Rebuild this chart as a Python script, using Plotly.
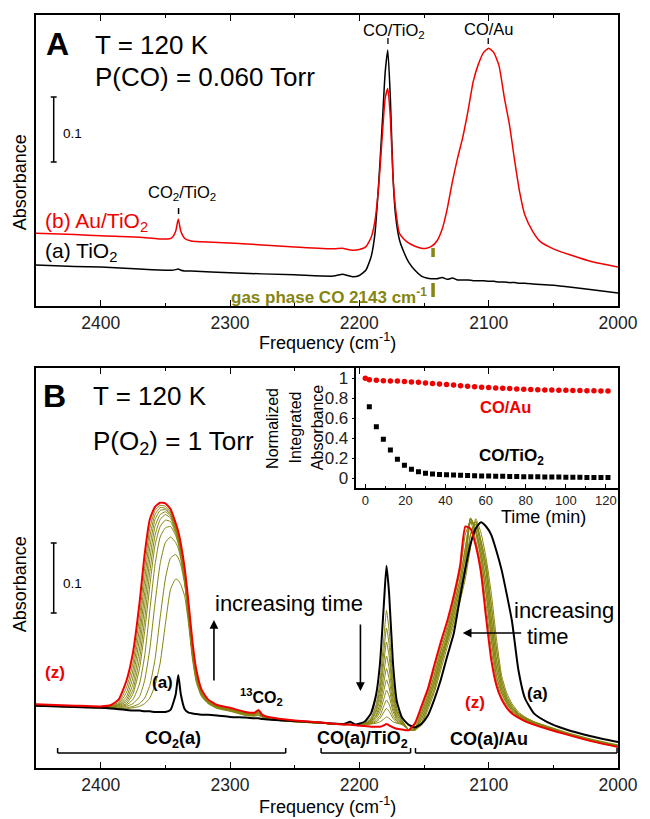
import plotly.graph_objects as go

# ---------------- Panel A data (Absorbance vs frequency) ----------------
freq_a = [2450, 2420, 2400, 2370, 2350, 2345, 2342, 2340, 2338, 2335,
          2330, 2300, 2250, 2220, 2213, 2209, 2205, 2200, 2195, 2191,
          2188, 2185, 2182, 2180, 2178, 2176, 2174, 2172, 2169, 2166,
          2162, 2157, 2152, 2148, 2144, 2140, 2136, 2132, 2128, 2124,
          2120, 2116, 2112, 2108, 2104, 2100, 2096, 2092, 2088, 2084,
          2080, 2076, 2072, 2066, 2060, 2050, 2036, 2020, 2000]
abs_a_tio2 = [.063, .061, .060, .057, .055, .055, .056, .057, .055, .054,
              .054, .051, .048, .046, .049, .047, .045, .047, .055, .075,
              .110, .190, .290, .360, .394, .320, .200, .140, .102, .085,
              .068, .055, .046, .043, .042, .042, .044, .041, .043, .040,
              .040, .040, .039, .039, .039, .038, .038, .037, .037, .036,
              .036, .035, .035, .034, .033, .032, .029, .025, .020]
abs_a_autio2 = [.112, .110, .108, .106, .103, .105, .115, .134, .115, .104,
                .100, .097, .091, .088, .089, .087, .086, .087, .091, .105,
                .130, .185, .270, .320, .335, .290, .200, .150, .112, .104,
                .097, .092, .089, .089, .092, .100, .118, .150, .192, .228,
                .260, .300, .345, .372, .390, .397, .390, .370, .322, .280,
                .225, .175, .140, .115, .099, .088, .078, .068, .060]
gas_phase_co = 2143

# ---------------- Panel B data ----------------
freq_b = [2450, 2420, 2400, 2392, 2386, 2380, 2375, 2370, 2366, 2362,
          2358, 2354, 2350, 2346, 2342, 2340, 2338, 2335, 2332, 2329,
          2326, 2322, 2317, 2310, 2300, 2288, 2281, 2278, 2275, 2268,
          2250, 2230, 2212, 2207, 2203, 2196, 2191, 2187, 2184, 2181,
          2179, 2177, 2174, 2171, 2167, 2162, 2157, 2152, 2147, 2142,
          2137, 2132, 2127, 2122, 2118, 2114, 2110, 2106, 2102, 2098,
          2094, 2090, 2086, 2082, 2077, 2072, 2065, 2055, 2040, 2020, 2000]
abs_b_first = [.089, .087, .086, .085, .084, .083, .082, .082, .081, .081,
               .080, .080, .080, .083, .105, .133, .105, .084, .079, .078,
               .077, .076, .076, .075, .073, .072, .071, .071, .070, .069,
               .067, .065, .063, .066, .062, .066, .078, .105, .150, .235,
               .289, .250, .150, .095, .072, .062, .058, .063, .075, .098,
               .126, .160, .192, .245, .285, .320, .342, .351, .345, .333,
               .310, .283, .248, .210, .140, .100, .078, .066, .055, .045, .037]
abs_b_last = [.091, .089, .088, .090, .098, .125, .165, .235, .305, .355,
              .373, .379, .378, .370, .350, .338, .320, .285, .235, .180,
              .140, .112, .098, .090, .086, .080, .079, .083, .076, .072,
              .068, .065, .062, .062, .061, .060, .059, .059, .059, .061,
              .063, .061, .058, .056, .055, .054, .064, .088, .113, .147,
              .180, .210, .246, .290, .345, .342, .318, .280, .215, .155,
              .118, .098, .086, .078, .072, .067, .062, .056, .048, .038, .030]

# intermediate spectra (olive), earliest -> latest, by spectral region
olive_co2 = [
    [.089, .087, .086, .085, .085, .085, .086, .088, .092, .100, .118, .150, .205, .255, .270, .268, .262, .245, .205, .155, .122, .102, .092, .085, .081],
    [.089, .087, .086, .085, .085, .086, .088, .092, .100, .118, .155, .215, .270, .300, .305, .300, .290, .262, .212, .160, .125, .104, .093, .086, .082],
    [.089, .087, .086, .086, .086, .088, .092, .102, .125, .170, .235, .292, .322, .330, .322, .314, .298, .265, .212, .160, .126, .104, .093, .086, .082],
    [.089, .087, .086, .086, .087, .090, .098, .120, .160, .225, .290, .330, .343, .345, .332, .320, .302, .266, .213, .161, .127, .105, .093, .086, .082],
    [.089, .087, .086, .086, .088, .092, .106, .142, .195, .260, .318, .345, .354, .352, .335, .323, .304, .268, .214, .162, .128, .105, .094, .087, .083],
    [.089, .088, .087, .087, .089, .095, .112, .155, .212, .280, .332, .355, .362, .357, .338, .326, .306, .270, .216, .164, .129, .106, .094, .087, .083],
    [.089, .088, .087, .087, .090, .098, .120, .170, .232, .298, .345, .362, .366, .360, .340, .328, .308, .272, .218, .165, .130, .106, .095, .087, .083],
    [.090, .088, .087, .088, .091, .102, .130, .185, .250, .315, .355, .368, .369, .362, .342, .330, .310, .273, .220, .167, .131, .107, .095, .088, .084],
    [.090, .088, .087, .088, .092, .108, .140, .200, .268, .330, .362, .372, .371, .364, .344, .332, .312, .275, .222, .169, .132, .108, .096, .088, .084],
    [.090, .088, .087, .089, .094, .115, .150, .215, .285, .342, .368, .375, .374, .366, .346, .333, .314, .278, .226, .172, .134, .109, .096, .088, .084],
]
olive_mid = [
    [.075, .074, .075, .072, .069, .066, .064, .062, .063, .062],
    [.076, .075, .076, .073, .069, .066, .064, .062, .062, .061],
    [.076, .075, .077, .073, .069, .066, .064, .062, .062, .061],
    [.077, .076, .078, .073, .070, .066, .064, .062, .062, .061],
    [.077, .076, .079, .074, .070, .067, .064, .062, .062, .061],
    [.078, .077, .080, .074, .070, .067, .064, .062, .062, .061],
    [.078, .077, .080, .074, .070, .067, .064, .062, .062, .061],
    [.078, .077, .081, .075, .071, .067, .064, .062, .062, .061],
    [.079, .078, .081, .075, .071, .067, .064, .062, .062, .061],
    [.079, .078, .082, .075, .071, .067, .064, .062, .062, .061],
]
olive_tio2 = [
    [.064, .072, .091, .124, .186, .225, .197, .124, .085, .069],
    [.063, .070, .087, .114, .167, .200, .177, .114, .081, .068],
    [.063, .069, .083, .107, .152, .180, .160, .107, .079, .067],
    [.063, .068, .080, .099, .136, .160, .143, .099, .076, .066],
    [.063, .067, .076, .092, .123, .142, .128, .092, .073, .065],
    [.063, .066, .074, .086, .111, .126, .115, .086, .071, .065],
    [.062, .065, .071, .081, .099, .111, .103, .081, .069, .064],
    [.062, .064, .068, .075, .089, .097, .091, .075, .067, .063],
    [.062, .063, .066, .071, .080, .085, .081, .071, .065, .063],
    [.062, .063, .064, .066, .070, .073, .071, .066, .064, .062],
]
au_a = [.055, .055, .061, .083, .108, .140, .173, .203, .239, .271, .315, .356, .336, .300, .250, .185, .132, .107, .092, .080, .073, .066, .060, .051, .041, .033]
au_b = [.055, .054, .064, .088, .113, .147, .180, .210, .246, .281, .334, .352, .325, .290, .233, .170, .125, .102, .089, .078, .072, .066, .059, .050, .040, .032]
au_c = [.055, .054, .069, .093, .120, .154, .185, .218, .254, .290, .351, .348, .318, .280, .215, .155, .118, .098, .086, .077, .071, .065, .059, .050, .040, .032]
au_d = [.055, .054, .074, .098, .126, .160, .190, .225, .262, .303, .357, .341, .309, .265, .200, .143, .112, .095, .084, .075, .070, .064, .058, .049, .039, .031]
au_e = [.055, .057, .079, .103, .133, .167, .197, .232, .271, .315, .356, .336, .300, .250, .185, .132, .107, .092, .082, .074, .069, .063, .057, .049, .039, .031]
au_f = [.055, .061, .083, .108, .140, .173, .203, .239, .281, .334, .352, .325, .290, .233, .170, .125, .102, .089, .080, .073, .068, .063, .057, .048, .038, .030]
olive_au = [au_a, au_b, au_b, au_c, au_c, au_d, au_d, au_e, au_e, au_f]

# inset: normalized integrated absorbance vs time
time_min = [0, 2, 5.5, 9, 12.5, 16, 19.5, 23, 26.5, 30, 33.5, 37, 40.5, 44, 47.5, 51, 54.5, 58,
            61.5, 65, 68.5, 72, 75.5, 79, 82.5, 86, 89.5, 93, 96.5, 100, 103.5, 107, 110.5, 114, 117.5, 121]
norm_co_au = [.997, .983, .977, .973, .971, .969, .965, .961, .957, .951, .946, .940, .934, .929, .923, .918, .912, .907,
              .904, .900, .897, .894, .890, .887, .885, .882, .880, .879, .878, .877, .876, .874, .873, .872, .871, .870]
time_tio2 = time_min[1:]
norm_co_tio2 = [.713, .513, .387, .280, .187, .127, .087, .063, .047, .040, .035, .032, .030, .027, .025, .023, .020,
                .020, .018, .017, .015, .015, .013, .012, .012, .010, .010, .009, .008, .008, .007, .006, .006, .005, .005]

# ---------------- figure ----------------
W, H = 650, 819
ML, MR, MT, MB = 36, 22, 15, 51
FONT = "Liberation Sans, Arial, sans-serif"
RED = "#f20000"
OLIVE = "#858510"


def px(x):
    return (x - ML) / (W - ML - MR)


def py(y):
    return (H - MB - y) / (H - MT - MB)


fig = go.Figure()

# Panel A
fig.add_trace(go.Scatter(x=freq_a, y=abs_a_tio2, xaxis="x", yaxis="y", mode="lines",
                         line=dict(color="black", width=1.5, shape="spline", smoothing=0.5)))
fig.add_trace(go.Scatter(x=freq_a, y=abs_a_autio2, xaxis="x", yaxis="y", mode="lines",
                         line=dict(color=RED, width=1.5, shape="spline", smoothing=0.5)))

# Panel B
for c, m, t, a in zip(olive_co2, olive_mid, olive_tio2, olive_au):
    fig.add_trace(go.Scatter(x=freq_b, y=c + m + t + a, xaxis="x2", yaxis="y2", mode="lines",
                             line=dict(color=OLIVE, width=1, shape="spline", smoothing=0.5)))
fig.add_trace(go.Scatter(x=freq_b, y=abs_b_first, xaxis="x2", yaxis="y2", mode="lines",
                         line=dict(color="black", width=2, shape="spline", smoothing=0.5)))
fig.add_trace(go.Scatter(x=freq_b, y=abs_b_last, xaxis="x2", yaxis="y2", mode="lines",
                         line=dict(color=RED, width=2, shape="spline", smoothing=0.5)))

# Inset
fig.add_trace(go.Scatter(x=time_tio2, y=norm_co_tio2, xaxis="x3", yaxis="y3", mode="markers",
                         marker=dict(symbol="square", size=5, color="black")))
fig.add_trace(go.Scatter(x=time_min, y=norm_co_au, xaxis="x3", yaxis="y3", mode="markers",
                         marker=dict(symbol="circle", size=5.5, color=RED)))

main_x = dict(range=[2450, 2000], showline=True, mirror="ticks", linecolor="black", linewidth=1.5,
              ticks="inside", ticklen=6, tickwidth=1.2, tickcolor="black", tick0=2000, dtick=100,
              minor=dict(ticks="inside", ticklen=3, dtick=50, tickcolor="black"),
              tickfont=dict(size=17.5, color="#222"), showgrid=False, zeroline=False)
main_y = dict(showline=True, mirror=True, linecolor="black", linewidth=1.5, showticklabels=False,
              ticks="", showgrid=False, zeroline=False)

fig.update_layout(
    width=W, height=H, margin=dict(l=ML, r=MR, t=MT, b=MB),
    paper_bgcolor="white", plot_bgcolor="rgba(0,0,0,0)", showlegend=False,
    font=dict(family=FONT, color="black"),
    xaxis=dict(main_x, domain=[0, 1], anchor="y"),
    yaxis=dict(main_y, domain=[py(306), 1], range=[0, 0.448], anchor="x"),
    xaxis2=dict(main_x, domain=[0, 1], anchor="y2"),
    yaxis2=dict(main_y, domain=[0, py(368)], range=[0, 0.5714], anchor="x2"),
    xaxis3=dict(domain=[px(362), 1], anchor="y3", range=[-4.4, 126], showline=True, linecolor="black",
                linewidth=1.5, ticks="inside", ticklen=4, tickcolor="black", tick0=0, dtick=20,
                minor=dict(ticks="inside", ticklen=2, dtick=10, tickcolor="black"),
                tickfont=dict(size=13, color="#222"), showgrid=False, zeroline=False),
    yaxis3=dict(domain=[py(488), py(368)], anchor="x3", range=[-0.1, 1.1], showline=True, linecolor="black",
                linewidth=1.5, ticks="outside", ticklen=3, tickcolor="black", tick0=0, dtick=0.2,
                tickfont=dict(size=17, color="#222"), showgrid=False, zeroline=False),
)

anns = []


def ann(text, x, y, size, color="black", xanchor="center", angle=0):
    anns.append(dict(text=text, x=px(x), y=py(y), xref="paper", yref="paper", showarrow=False,
                     xanchor=xanchor, yanchor="middle", textangle=angle,
                     font=dict(size=size, color=color, family=FONT)))


def arrow(hx, hy, ax, ay):
    anns.append(dict(text="", x=px(hx), y=py(hy), xref="paper", yref="paper", showarrow=True,
                     ax=ax, ay=ay, arrowhead=2, arrowsize=1.1, arrowwidth=1.6, arrowcolor="black",
                     font=dict(size=10)))


# Panel A text
ann("<b>A</b>", 58, 44, 32)
ann("T = 120 K", 94, 45, 26, xanchor="left")
ann("P(CO) = 0.060 Torr", 94, 77, 26, xanchor="left")
ann("0.1", 61, 133, 13.5, xanchor="left")
ann("CO/TiO<sub>2</sub>", 400, 31, 16.5)
ann("CO/Au", 497, 29, 16.5)
ann("CO<sub>2</sub>/TiO<sub>2</sub>", 184, 193, 16.5)
ann("(b) Au/TiO<sub>2</sub>", 43, 222, 21, color=RED, xanchor="left")
ann("(a) TiO<sub>2</sub>", 43, 252, 21, xanchor="left")
ann("<b>gas phase CO 2143 cm<sup>-1</sup></b>", 436, 296, 17, color=OLIVE, xanchor="right")
ann("Absorbance", 20, 182, 18, angle=-90)
ann("Frequency (cm<sup>-1</sup>)", 332, 342, 18)

# Panel B text
ann("<b>B</b>", 55, 396, 32)
ann("T = 120 K", 92, 396, 26, xanchor="left")
ann("P(O<sub>2</sub>) = 1 Torr", 92, 443, 26, xanchor="left")
ann("0.1", 61, 583, 13.5, xanchor="left")
ann("Absorbance", 20, 584, 18, angle=-90)
ann("Frequency (cm<sup>-1</sup>)", 332, 805, 18)
ann("<b>(z)</b>", 55, 672, 17, color=RED)
ann("<b>(a)</b>", 165, 682, 17)
ann("<b><sup>13</sup>CO<sub>2</sub></b>", 265, 697, 16)
ann("increasing time", 216, 603, 22, xanchor="left")
ann("increasing", 573, 610, 22)
ann("time", 557, 636, 22)
ann("<b>(a)</b>", 546, 693, 17)
ann("<b>(z)</b>", 483, 702, 17, color=RED)
ann("<b>CO<sub>2</sub>(a)</b>", 175, 739, 18)
ann("<b>CO(a)/TiO<sub>2</sub></b>", 368, 739, 18)
ann("<b>CO(a)/Au</b>", 497, 739, 18)
arrow(217, 620, 0, 62)
arrow(366, 691, 0, -68)
arrow(470, 633, 60, 0)

# Inset text
ann("Normalized", 277, 428, 16, angle=-90)
ann("Integrated", 300, 428, 16, angle=-90)
ann("Absorbance", 323, 428, 16, angle=-90)
ann("Time (min)", 552, 517, 18)
ann("<b>CO/Au</b>", 514, 407, 16.5, color=RED)
ann("<b>CO/TiO<sub>2</sub></b>", 520, 457, 17)

fig.update_layout(annotations=anns)

shapes = []


def seg(x0, y0, x1, y1, color="black", width=1.3):
    shapes.append(dict(type="line", xref="paper", yref="paper", x0=px(x0), y0=py(y0), x1=px(x1), y1=py(y1),
                       line=dict(color=color, width=width)))


# scale bars
for top, bot in [(97, 162), (543, 613)]:
    seg(54, top, 54, bot, width=1.5)
    seg(51, top, 57, top, width=1.5)
    seg(51, bot, 57, bot, width=1.5)
# peak markers in A
seg(394, 38, 394, 44)
seg(496, 38, 496, 44)
seg(181, 208, 181, 214, width=1.5)
# gas-phase CO markers
for y0, y1 in [(248, 257), (283, 297)]:
    shapes.append(dict(type="line", xref="x", yref="paper", x0=gas_phase_co, x1=gas_phase_co,
                       y0=py(y0), y1=py(y1), line=dict(color=OLIVE, width=3.5)))
# brackets in B
for x0, x1 in [(58, 290), (326, 417), (422, 627)]:
    seg(x0, 753, x1, 753, width=1.5)
    seg(x0, 748, x0, 753, width=1.5)
    seg(x1, 748, x1, 753, width=1.5)

fig.update_layout(shapes=shapes)

fig.write_html("out.html", config={"displayModeBar": False},
               post_script="document.body.style.margin='0';document.body.style.padding='0';")
